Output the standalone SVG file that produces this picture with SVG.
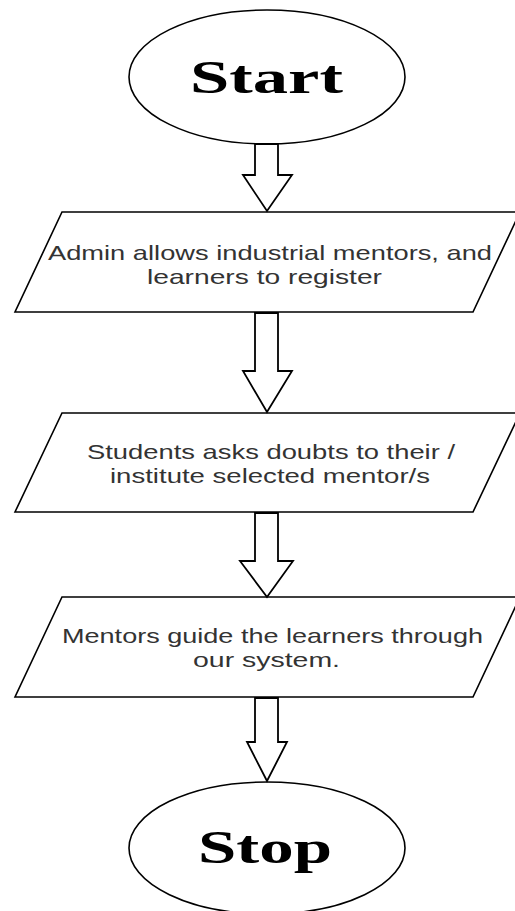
<svg xmlns="http://www.w3.org/2000/svg" width="515" height="911" viewBox="0 0 515 911">
<style>
.shape{fill:#fff;stroke:#000;stroke-width:1.6}
.arrow{fill:#fff;stroke:#000;stroke-width:1.8;stroke-linejoin:miter}
.term{font-family:"Liberation Serif","Times New Roman",serif;font-weight:bold;font-size:47px;fill:#000}
.lbl{font-family:"Liberation Sans",Arial,sans-serif;font-size:21px;fill:#333}
</style>
<rect width="515" height="911" fill="#fff"/>
<g id="start">
<ellipse class="shape" cx="267" cy="77" rx="138" ry="67"/>
<text class="term" x="190" y="93" textLength="153" lengthAdjust="spacingAndGlyphs">Start</text>
</g>
<g id="register">
<polygon class="shape" points="62,212 520,212 473,312 15,312"/>
<text class="lbl" x="48" y="260" textLength="444" lengthAdjust="spacingAndGlyphs">Admin allows industrial mentors, and</text>
<text class="lbl" x="147" y="284" textLength="235" lengthAdjust="spacingAndGlyphs">learners to register</text>
</g>
<g id="doubts">
<polygon class="shape" points="62,413 520,413 473,512 15,512"/>
<text class="lbl" x="87" y="459" textLength="368" lengthAdjust="spacingAndGlyphs">Students asks doubts to their /</text>
<text class="lbl" x="110" y="483" textLength="320" lengthAdjust="spacingAndGlyphs">institute selected mentor/s</text>
</g>
<g id="guide">
<polygon class="shape" points="62,597 520,597 473,697 15,697"/>
<text class="lbl" x="62" y="643" textLength="421" lengthAdjust="spacingAndGlyphs">Mentors guide the learners through</text>
<text class="lbl" x="193" y="667" textLength="147" lengthAdjust="spacingAndGlyphs">our system.</text>
</g>
<g id="stop">
<ellipse class="shape" cx="267" cy="848" rx="138" ry="66"/>
<text class="term" x="198" y="863" textLength="134" lengthAdjust="spacingAndGlyphs">Stop</text>
</g>
<g id="connectors">
<polygon class="arrow" points="255,144 278,144 278,175 292,175 267,211 243,175 255,175"/>
<polygon class="arrow" points="255,313 278,313 278,371 292,371 267,412 243,371 255,371"/>
<polygon class="arrow" points="255,513 278,513 278,561 293,561 267,597 240,561 255,561"/>
<polygon class="arrow" points="255,698 278,698 278,742 287,742 267,781 247,742 255,742"/>
</g>
</svg>
